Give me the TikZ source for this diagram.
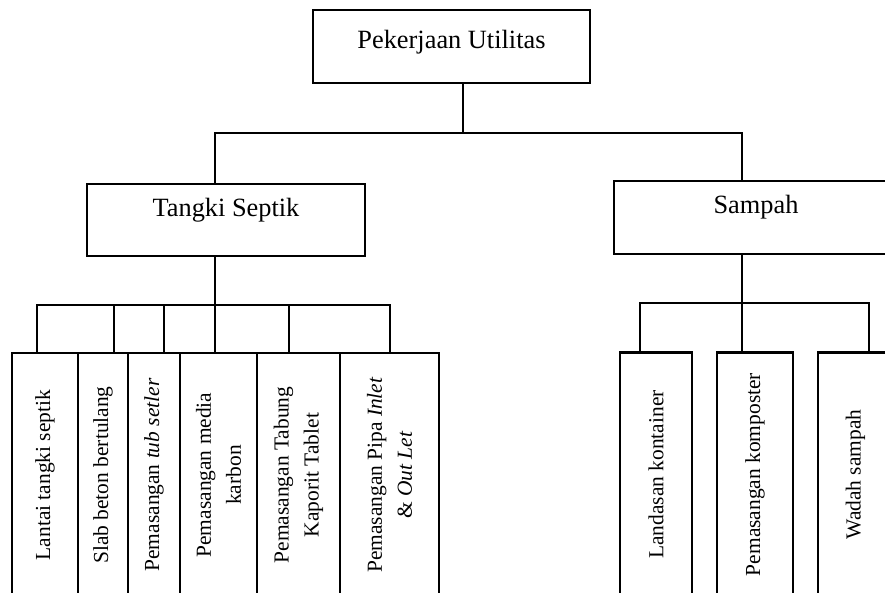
\documentclass[tikz,border=0pt]{standalone}
\usepackage{fontspec}
\setmainfont{Liberation Serif}
\usepackage{tikz}

\begin{document}
\begin{tikzpicture}[x=0.02cm, y=-0.02cm, line cap=rect]
\tikzset{
  box/.style  ={draw=black, line width=1.3pt, align=center, inner sep=2pt,
                font=\fontsize{15}{18}\selectfont, text height=10pt},
  head/.style ={box, minimum width=5.54cm, minimum height=1.46cm,
                text depth=8pt},
  sub/.style  ={box, minimum height=1.45cm, text depth=14pt},
  leaf/.style ={draw=black, line width=1.3pt, align=center, inner sep=1pt,
                rotate=90, font=\fontsize{12.2}{17}\selectfont,
                minimum width=4.88cm},
  link/.style ={line width=1.3pt}
}
\useasboundingbox (0,0) rectangle (885,592);

%% ----- Top and second level -----
\node[head] (top) at (451.5,46.5) {Pekerjaan Utilitas};
\node[sub, minimum width=5.56cm] (ts) at (226,220) {Tangki Septik};
\node[sub, minimum width=5.68cm] (sa) at (756,217.5) {Sampah};

\coordinate (hub)  at (463,133);
\coordinate (tsin) at (215,133);
\coordinate (sain) at (742,133);
\draw[link] (hub |- top.south) -- (hub);
\draw[link] (tsin |- ts.north) -- (tsin) -- (sain) -- (sain |- sa.north);

%% ----- Tangki Septik items -----
\node[leaf, minimum height=1.32cm] (l1) at (45,475)
  {Lantai tangki septik};
\node[leaf, minimum height=1.0cm] (l2) at (103,475)
  {Slab beton bertulang};
\node[leaf, minimum height=1.04cm] (l3) at (154,475)
  {Pemasangan \textit{tub setler}};
\node[leaf, minimum height=1.54cm] (l4) at (218.5,475)
  {Pemasangan media\\karbon};
\node[leaf, minimum height=1.66cm] (l5) at (298.5,475)
  {Pemasangan Tabung\\Kaporit Tablet};
\node[leaf, minimum height=1.98cm] (l6) at (389.5,475)
  {Pemasangan Pipa \textit{Inlet}\\\& \textit{Out Let}};

\foreach \x [count=\i] in {37,114,164,215,289,390}
  \coordinate (dl\i) at (\x,305);
\draw[link] (ts.south -| dl4) -- (dl4);
\draw[link] (l1.east -| dl1) -- (dl1) -- (dl6) -- (dl6 |- l6.east);
\foreach \i in {2,...,5}
  \draw[link] (dl\i) -- (dl\i |- l\i.east);

%% ----- Sampah items -----
\node[leaf, minimum height=1.44cm] (r1) at (656,474.5)
  {Landasan kontainer};
\node[leaf, minimum height=1.52cm] (r2) at (755,474.5)
  {Pemasangan komposter};
\node[leaf, minimum height=1.5cm] (r3) at (855.5,474.5)
  {Wadah sampah};

\foreach \x [count=\i] in {640,742,869}
  \coordinate (dr\i) at (\x,303);
\draw[link] (sa.south -| dr2) -- (dr2 |- r2.east);
\draw[link] (r1.east -| dr1) -- (dr1) -- (dr3) -- (dr3 |- r3.east);

\end{tikzpicture}
\end{document}
